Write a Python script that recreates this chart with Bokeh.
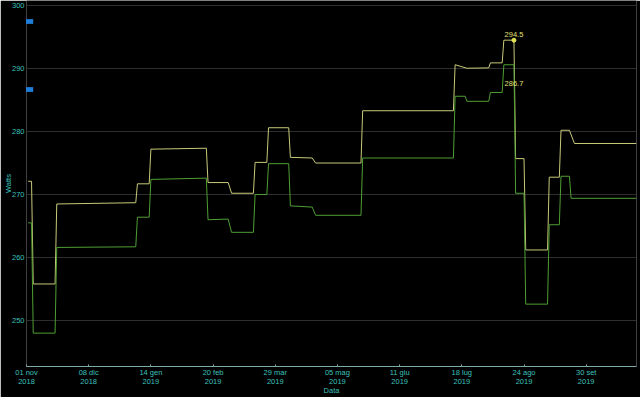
import pandas as pd
from bokeh.plotting import figure
from bokeh.models import (FixedTicker, CustomJSTickFormatter, ColumnDataSource,
                          Range1d, Legend, LegendItem)
from bokeh.core.properties import value
from bokeh.embed import file_html
from bokeh.resources import INLINE

# ---- data ----
upper_dates = ["2018-11-02", "2018-11-04", "2018-11-05", "2018-11-18", "2018-11-19",
               "2019-01-05", "2019-01-06", "2019-01-13", "2019-01-14", "2019-02-16",
               "2019-02-17", "2019-03-01", "2019-03-03", "2019-03-16", "2019-03-17",
               "2019-03-24", "2019-03-25", "2019-04-06", "2019-04-07", "2019-04-20",
               "2019-04-22", "2019-05-19", "2019-05-20", "2019-07-13", "2019-07-14",
               "2019-07-21", "2019-08-03", "2019-08-04", "2019-08-11", "2019-08-12",
               "2019-08-18", "2019-08-19", "2019-08-24", "2019-08-25", "2019-09-07",
               "2019-09-08", "2019-09-14", "2019-09-15", "2019-09-20", "2019-09-23",
               "2019-10-30"]
upper_vals = [272.1, 272.1, 255.8, 255.8, 268.5,
              268.7, 271.7, 271.7, 277.2, 277.35,
              271.9, 271.9, 270.2, 270.2, 275.1,
              275.1, 280.6, 280.6, 275.9, 275.8,
              275.0, 275.0, 283.3, 283.3, 290.6,
              290.05, 290.1, 290.9, 290.9, 294.5,
              294.5, 275.7, 275.7, 261.2, 261.2,
              272.75, 272.75, 280.2, 280.2, 278.1,
              278.1]

lower_dates = ["2018-11-02", "2018-11-04", "2018-11-05", "2018-11-18", "2018-11-19",
               "2019-01-05", "2019-01-06", "2019-01-13", "2019-01-14", "2019-02-16",
               "2019-02-17", "2019-03-01", "2019-03-03", "2019-03-16", "2019-03-17",
               "2019-03-24", "2019-03-25", "2019-04-06", "2019-04-07", "2019-04-20",
               "2019-04-22", "2019-05-19", "2019-05-20", "2019-07-13", "2019-07-14",
               "2019-07-20", "2019-07-21", "2019-08-03", "2019-08-04", "2019-08-11",
               "2019-08-12", "2019-08-18", "2019-08-19", "2019-08-24", "2019-08-25",
               "2019-09-07", "2019-09-08", "2019-09-14", "2019-09-15", "2019-09-20",
               "2019-09-21", "2019-10-30"]
lower_vals = [265.5, 265.5, 248.0, 248.0, 261.6,
              261.7, 266.4, 266.4, 272.4, 272.6,
              266.0, 266.1, 264.0, 264.0, 270.0,
              270.0, 274.9, 274.9, 268.2, 268.0,
              266.7, 266.7, 275.8, 275.8, 285.6,
              285.6, 284.8, 284.8, 286.2, 286.2,
              290.6, 290.6, 270.2, 270.2, 252.6,
              252.6, 265.2, 265.2, 272.9, 272.9,
              269.4, 269.4]

tick_dates = ["2018-11-01", "2018-12-08", "2019-01-14", "2019-02-20", "2019-03-29",
              "2019-05-05", "2019-06-11", "2019-07-18", "2019-08-24", "2019-09-30"]
tick_labels = ["01 nov\n2018", "08 dic\n2018", "14 gen\n2019", "20 feb\n2019",
               "29 mar\n2019", "05 mag\n2019", "11 giu\n2019", "18 lug\n2019",
               "24 ago\n2019", "30 set\n2019"]
y_ticks = [250, 260, 270, 280, 290, 300]

peak_date = "2019-08-18"
peak_value = 294.5
peak_text = "294.5"
second_value = 286.7
second_text = "286.7"

# ---- styling ----
BG = "#000000"
TXT = "#3cc0bc"
UPPER = "#c9c97a"
LOWER = "#4f9e34"
FONT = "Liberation Sans"
FS = "7.5px"

ud = pd.to_datetime(upper_dates)
ld = pd.to_datetime(lower_dates)
td = pd.to_datetime(tick_dates)
tick_ms = [float(t.value // 10**6) for t in td]

p = figure(width=640, height=397, x_axis_type="datetime",
           output_backend="svg", toolbar_location=None,
           x_range=Range1d(pd.Timestamp("2018-11-01"), pd.Timestamp("2019-10-29 22:00")),
           y_range=Range1d(242.7, 300.8),
           background_fill_color=BG, border_fill_color=BG,
           min_border_left=0, min_border_right=4, min_border_top=0, min_border_bottom=0)
p.outline_line_color = None

p.line(ud, upper_vals, line_color=UPPER, line_width=1)
p.line(ld, lower_vals, line_color=LOWER, line_width=1)

pk = ColumnDataSource(dict(x=[pd.Timestamp(peak_date)], y=[peak_value], t=[peak_text]))
p.scatter("x", "y", source=pk, size=4, color="#e0e050")
p.text("x", "y", text="t", source=pk, text_color="#e0e070", text_font=value(FONT),
       text_font_size=FS, text_align="center", text_baseline="bottom", y_offset=-3)
sk = ColumnDataSource(dict(x=[pd.Timestamp(peak_date)], y=[second_value], t=[second_text]))
p.text("x", "y", text="t", source=sk, text_color="#e0e070", text_font=value(FONT),
       text_font_size=FS, text_align="center", text_baseline="bottom", y_offset=-3)

# legend swatches (blue)
nan = float("nan")
sw = ColumnDataSource(dict(l=[nan], r=[nan], b=[nan], t=[nan]))
r1 = p.quad(left="l", right="r", bottom="b", top="t", source=sw,
            fill_color="#1f7fd8", line_color=None)
for loc in [(-5, 341.6), (-5, 273.6)]:
    lg = Legend(items=[LegendItem(label=" ", renderers=[r1])], location=loc,
                glyph_width=13, glyph_height=6, padding=0, margin=0, spacing=0,
                label_width=0, label_height=6, label_standoff=0,
                border_line_color=None, background_fill_color=None,
                background_fill_alpha=0, label_text_font_size="1px")
    p.add_layout(lg, "center")

# axes
xa = p.xaxis[0]
xa.ticker = FixedTicker(ticks=tick_ms)
xa.formatter = CustomJSTickFormatter(args=dict(tk=tick_ms, lbls=tick_labels), code="""
let best = 0, bd = Infinity;
for (let i = 0; i < tk.length; i++) { const d = Math.abs(tk[i] - tick); if (d < bd) { bd = d; best = i; } }
return lbls[best];
""")
xa.axis_label = "Data"
xa.axis_line_color = "#7fa8a8"
xa.major_tick_line_color = "#7fa8a8"
xa.major_tick_in = 2
xa.major_tick_out = 0
xa.minor_tick_line_color = None
xa.major_label_text_color = TXT
xa.major_label_text_font = FONT
xa.major_label_text_font_size = FS
xa.major_label_text_line_height = 1.0
xa.major_label_standoff = 1
xa.axis_label_text_color = TXT
xa.axis_label_text_font = FONT
xa.axis_label_text_font_size = FS
xa.axis_label_text_font_style = "normal"
xa.axis_label_standoff = -3

ya = p.yaxis[0]
ya.ticker = FixedTicker(ticks=y_ticks)
ya.axis_label = "Watts"
ya.axis_line_color = None
ya.major_tick_line_color = None
ya.minor_tick_line_color = None
ya.major_tick_in = 0
ya.major_tick_out = 0
ya.major_label_text_color = TXT
ya.major_label_text_font = FONT
ya.major_label_text_font_size = FS
ya.major_label_standoff = 2
ya.axis_label_text_color = TXT
ya.axis_label_text_font = FONT
ya.axis_label_text_font_size = FS
ya.axis_label_text_font_style = "normal"
ya.axis_label_standoff = -4

p.xgrid.grid_line_color = None
p.ygrid.grid_line_color = "#2e2e2e"
p.ygrid.grid_line_width = 1

open("out.html", "w").write(file_html(p, INLINE))
